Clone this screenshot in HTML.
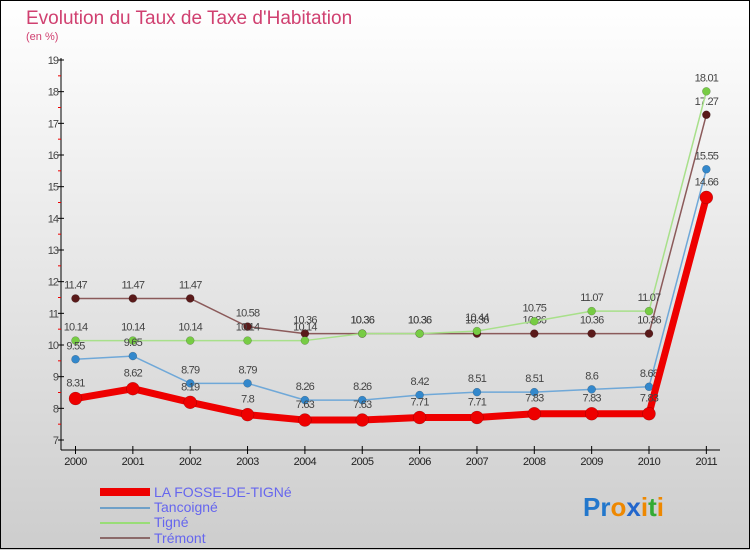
<!DOCTYPE html>
<html><head><meta charset="utf-8"><style>
body{margin:0}
svg{display:block;font-family:"Liberation Sans",sans-serif}
</style></head><body>
<svg width="750" height="550" viewBox="0 0 750 550" xmlns="http://www.w3.org/2000/svg">
<defs><linearGradient id="bg" x1="0" y1="0" x2="0" y2="1"><stop offset="0" stop-color="#ffffff"/><stop offset="1" stop-color="#cdcdcd"/></linearGradient></defs>
<rect x="0" y="0" width="750" height="550" fill="url(#bg)"/>
<rect x="0.5" y="0.5" width="749" height="548" fill="none" stroke="#000"/>
<text x="26" y="24" font-size="19" fill="#d04070">Evolution du Taux de Taxe d'Habitation</text>
<text x="26" y="40" font-size="11" fill="#d04070">(en %)</text>
<g id="axes"></g>
<g id="series"></g>
<g id="legend">
<rect x="100" y="488" width="50" height="8" fill="#ee0000"/>
<text x="154" y="497" font-size="14" fill="#6666ee">LA FOSSE-DE-TIGNé</text>
<rect x="100" y="507" width="50" height="2" fill="#6fa0c8"/>
<text x="154" y="512" font-size="14" fill="#6666ee">Tancoigné</text>
<rect x="100" y="522" width="50" height="2" fill="#99dd77"/>
<text x="154" y="527" font-size="14" fill="#6666ee">Tigné</text>
<rect x="100" y="537" width="50" height="2" fill="#8b6a6a"/>
<text x="154" y="543" font-size="14" fill="#6666ee">Trémont</text>
</g>
<text x="583" y="516" font-size="26" font-weight="bold"><tspan fill="#2277cc">Pr</tspan><tspan fill="#ee8800">o</tspan><tspan fill="#2266cc">x</tspan><tspan fill="#ee8800">i</tspan><tspan fill="#33aa33">t</tspan><tspan fill="#ee8800">i</tspan></text>
</svg>
<script>
const years=["2000","2001","2002","2003","2004","2005","2006","2007","2008","2009","2010","2011"];
const yTicks=[7,8,9,10,11,12,13,14,15,16,17,18,19];
const fosse=[8.31,8.62,8.19,7.8,7.63,7.63,7.71,7.71,7.83,7.83,7.83,14.66];
const tancoigne=[9.55,9.65,8.79,8.79,8.26,8.26,8.42,8.51,8.51,8.6,8.68,15.55];
const tigne=[10.14,10.14,10.14,10.14,10.14,10.36,10.36,10.44,10.75,11.07,11.07,18.01];
const tremont=[11.47,11.47,11.47,10.58,10.36,10.36,10.36,10.36,10.36,10.36,10.36,17.27];
const NS="http://www.w3.org/2000/svg";
const X=i=>75.5+i*57.35;
const Y=v=>440-(v-7)*(380/12);
function mk(tag,attrs,parent){const e=document.createElementNS(NS,tag);for(const k in attrs)e.setAttribute(k,attrs[k]);parent.appendChild(e);return e;}
const ax=document.getElementById('axes');
let l=mk('line',{x1:61,y1:58,x2:61,y2:450,stroke:'#000','stroke-width':1},ax);


l=mk('line',{x1:61,y1:450,x2:720,y2:450,stroke:'#000','stroke-width':1},ax);


yTicks.forEach(t=>{
 const y=Y(t);
 mk('line',{x1:58,y1:y,x2:64,y2:y,stroke:'#000'},ax);
 if(t<19){const m=mk('line',{x1:58,y1:Y(t+0.5),x2:61,y2:Y(t+0.5),stroke:'#e00'},ax);}
 const tx=mk('text',{x:58,y:y+4,'font-size':11,fill:'#444','text-anchor':'end','letter-spacing':'-1'},ax);
 tx.textContent=t;
 
 
});
years.forEach((yr,i)=>{
 mk('line',{x1:X(i),y1:446,x2:X(i),y2:454,stroke:'#000'},ax);
 const tx=mk('text',{x:X(i),y:465,'font-size':11,fill:'#222','text-anchor':'middle','letter-spacing':'-0.5'},ax);
 tx.textContent=yr;
 
 
});
const sg=document.getElementById('series');
function series(vals,color,dot,w,r,name,labelDy){
 const g=mk('g',{},sg);
 
 
 mk('polyline',{points:vals.map((v,i)=>X(i)+','+Y(v)).join(' '),fill:'none',stroke:color,'stroke-width':w,'stroke-linejoin':'round'},g);
 vals.forEach((v,i)=>{
  const c=mk('circle',{cx:X(i),cy:Y(v),r:r,fill:dot,stroke:'rgba(0,0,0,0.3)','stroke-width':0.5},g);
  
  
  const t=mk('text',{x:X(i),y:Y(v)+labelDy,'font-size':11,fill:'#444','text-anchor':'middle','letter-spacing':'-0.8'},g);
  t.textContent=String(v);
  
  
 });
}
series(tremont,'#8b5a5a','#5a1a1a',1.5,4,'series-tremont',-10);
series(tigne,'#a8e08a','#77cc44',1.5,4,'series-tigne',-10);
series(tancoigne,'#6fa8d8','#3388cc',1.5,4,'series-tancoigne',-10);
series(fosse,'#ee0000','#ee0000',7,6.5,'series-fosse',-12);
</script>
</body></html>
